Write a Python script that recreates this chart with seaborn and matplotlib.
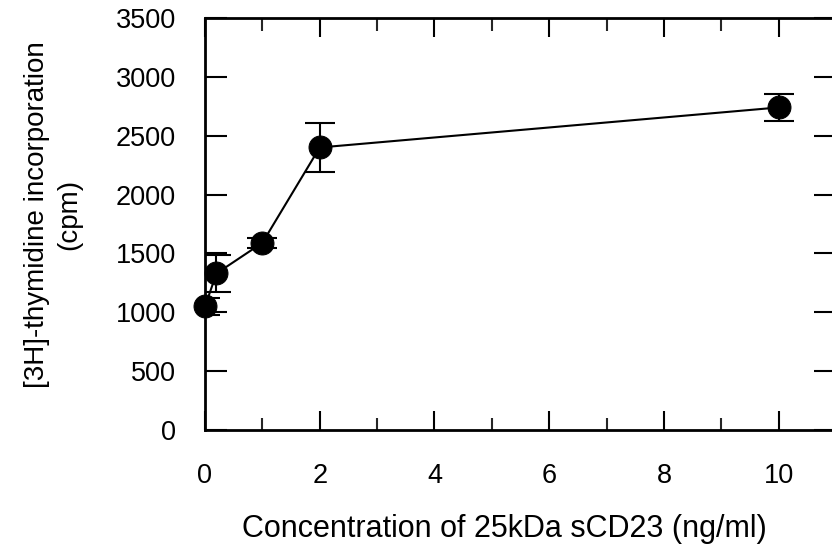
import matplotlib
matplotlib.use("Agg")
import matplotlib.pyplot as plt
import seaborn as sns
import pandas as pd
from matplotlib.ticker import MultipleLocator

sns.set_style("white")
plt.rcParams['font.family'] = ['Liberation Sans', 'DejaVu Sans']
plt.rcParams['text.color'] = 'black'
plt.rcParams['axes.labelcolor'] = 'black'

concentration = [0, 0.2, 1, 2, 10]
cpm = [1050, 1330, 1590, 2400, 2740]
cpm_err = [70, 160, 40, 205, 115]
x_ticks = [0, 2, 4, 6, 8, 10]
y_ticks = [0, 500, 1000, 1500, 2000, 2500, 3000, 3500]

df = pd.DataFrame({"conc": concentration, "cpm": cpm, "err": cpm_err})

fig = plt.figure(figsize=(8.32, 5.54), dpi=100)
W, H = 832, 554
left, right, top, bottom = 205, 836, 18, 430
ax = fig.add_axes([left / W, 1 - bottom / H, (right - left) / W, (bottom - top) / H])

ax.errorbar(df["conc"], df["cpm"], yerr=df["err"], fmt="none", ecolor="black",
            elinewidth=1.5, capsize=11, capthick=1.5, zorder=2)
sns.lineplot(data=df, x="conc", y="cpm", ax=ax, color="black", linewidth=1.5,
             marker="o", markersize=16.5, markeredgecolor="black",
             markerfacecolor="black", zorder=3, clip_on=False)

ax.set_xlim(0, 11)
ax.set_ylim(0, 3500)
ax.set_xticks(x_ticks)
ax.set_yticks(y_ticks)
ax.xaxis.set_minor_locator(MultipleLocator(1))
ax.tick_params(axis="y", which="major", direction="in", length=16, width=1.5,
               left=True, right=True, labelsize=19.5, pad=21, colors="black")
ax.tick_params(axis="x", which="major", direction="in", length=14, width=1.5,
               top=True, bottom=True, labelsize=19.5, pad=24, colors="black")
ax.tick_params(axis="x", which="minor", direction="in", length=9, width=1.5,
               top=True, bottom=True)
for s in ax.spines.values():
    s.set_linewidth(2)
    s.set_color("black")

ax.set_xlabel("Concentration of 25kDa sCD23 (ng/ml)", fontsize=22)
ax.set_ylabel("[3H]-thymidine incorporation\n(cpm)", fontsize=20, linespacing=1.3)
ax.xaxis.set_label_coords(0.475, -0.205)
ax.yaxis.set_label_coords(-0.195, 0.522)

fig.savefig("out.png", dpi=100)
